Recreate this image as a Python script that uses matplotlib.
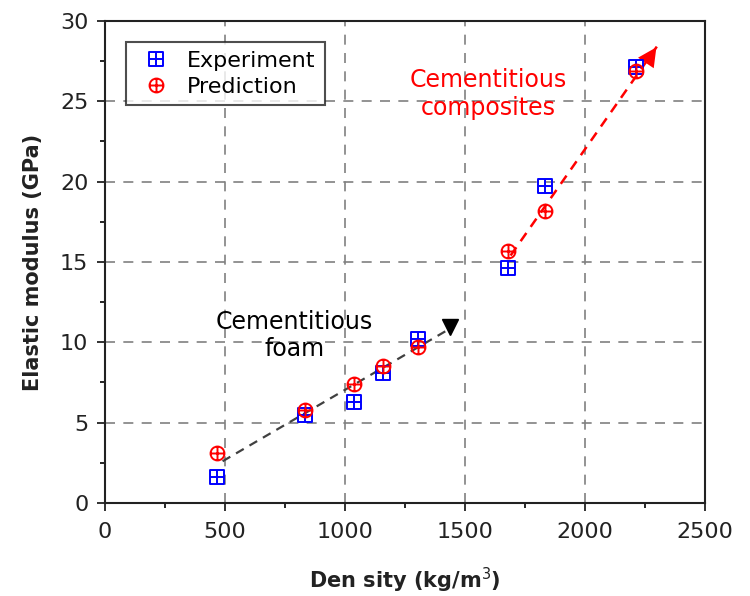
import numpy as np
import matplotlib
matplotlib.use("Agg")
import matplotlib.pyplot as plt
from matplotlib.path import Path

plt.rcParams['font.family'] = ['DejaVu Sans']

density = [467, 833, 1037, 1158, 1304, 1679, 1833, 2212]
exp_modulus = [1.6, 5.5, 6.3, 8.1, 10.2, 14.6, 19.7, 27.1]
pred_modulus = [3.1, 5.8, 7.4, 8.5, 9.7, 15.7, 18.2, 26.9]

foam_trend = ([490, 1420], [2.6, 10.7])
foam_head = (1437, 10.95)
comp_trend = ([1690, 2304], [15.4, 28.5])

x_ticks = [0, 500, 1000, 1500, 2000, 2500]
y_ticks = [0, 5, 10, 15, 20, 25, 30]

# square-with-cross and circle-with-cross marker paths
sq = Path.unit_rectangle()
sq_verts = (sq.vertices - 0.5) * 2
cross_verts = np.array([[-1, 0], [1, 0], [0, -1], [0, 1]])
sq_cross = Path(np.vstack([sq_verts, cross_verts]),
                list(sq.codes) + [Path.MOVETO, Path.LINETO, Path.MOVETO, Path.LINETO])
circ = Path.unit_circle()
circ_cross = Path(np.vstack([circ.vertices, cross_verts]),
                  list(circ.codes) + [Path.MOVETO, Path.LINETO, Path.MOVETO, Path.LINETO])

fig = plt.figure(figsize=(7.5, 5.96), dpi=100)
ax = fig.add_axes([0.14, 0.156, 0.80, 0.809])

ax.grid(True, which='major', color='#808080', linestyle=(0, (6, 5)), linewidth=1.2)
ax.set_axisbelow(True)

# foam trend with triangle head
ax.plot(*foam_trend, color='#404040', linestyle=(0, (4, 3)), linewidth=1.6, zorder=2)
ax.plot([foam_head[0]], [foam_head[1]], marker='v', markersize=12, color='black',
        linestyle='none', zorder=3)

# composite trend with arrow head
ax.plot(comp_trend[0], comp_trend[1], color='red', linestyle=(0, (4, 3)), linewidth=1.8,
        zorder=2)
ax.annotate('', xy=(comp_trend[0][1], comp_trend[1][1]),
            xytext=(comp_trend[0][1] - 45, comp_trend[1][1] - 1.0),
            arrowprops=dict(arrowstyle='-|>', color='red', mutation_scale=34, lw=0), zorder=3)

ax.plot(density, exp_modulus, linestyle='none', marker=sq_cross, markersize=9.5,
        markerfacecolor='none', markeredgecolor='blue', markeredgewidth=1.4,
        label='Experiment', zorder=4)
ax.plot(density, pred_modulus, linestyle='none', marker=circ_cross, markersize=10,
        markerfacecolor='none', markeredgecolor='red', markeredgewidth=1.4,
        label='Prediction', zorder=5)

ax.text(790, 10.4, 'Cementitious\nfoam', ha='center', va='center', fontsize=17,
        color='black', linespacing=1.15)
ax.text(1596, 25.45, 'Cementitious\ncomposites', ha='center', va='center', fontsize=17,
        color='red', linespacing=1.2)

ax.set_xlim(0, 2500)
ax.set_ylim(0, 30)
ax.set_xticks(x_ticks)
ax.set_yticks(y_ticks)
ax.set_xticks(np.arange(250, 2500, 500), minor=True)
ax.set_yticks(np.arange(2.5, 30, 5), minor=True)
ax.tick_params(which='major', direction='out', length=6, width=1.3, labelsize=16,
               colors='#222222')
ax.tick_params(axis='x', which='major', pad=8)
ax.tick_params(axis='y', which='major', pad=6)
ax.tick_params(which='minor', direction='out', length=3.5, width=1.2)
for s in ax.spines.values():
    s.set_linewidth(1.5)
    s.set_color('#222222')

ax.set_xlabel('Den sity (kg/m$^3$)', fontsize=15, fontweight='bold', color='#222222',
              va='center')
ax.set_ylabel('Elastic modulus (GPa)', fontsize=15, fontweight='bold', color='#222222',
              va='center')
ax.xaxis.set_label_coords(0.5, -0.16)
ax.yaxis.set_label_coords(-0.12, 0.5)

leg = ax.legend(loc='upper left', bbox_to_anchor=(0.035, 0.956), fontsize=16,
                frameon=True, fancybox=False, edgecolor='#222222',
                handletextpad=0.45, borderpad=0.4, labelspacing=0.25, handlelength=1.9,
                borderaxespad=0)
leg.get_frame().set_linewidth(1.5)

fig.savefig('out.png', dpi=100)
